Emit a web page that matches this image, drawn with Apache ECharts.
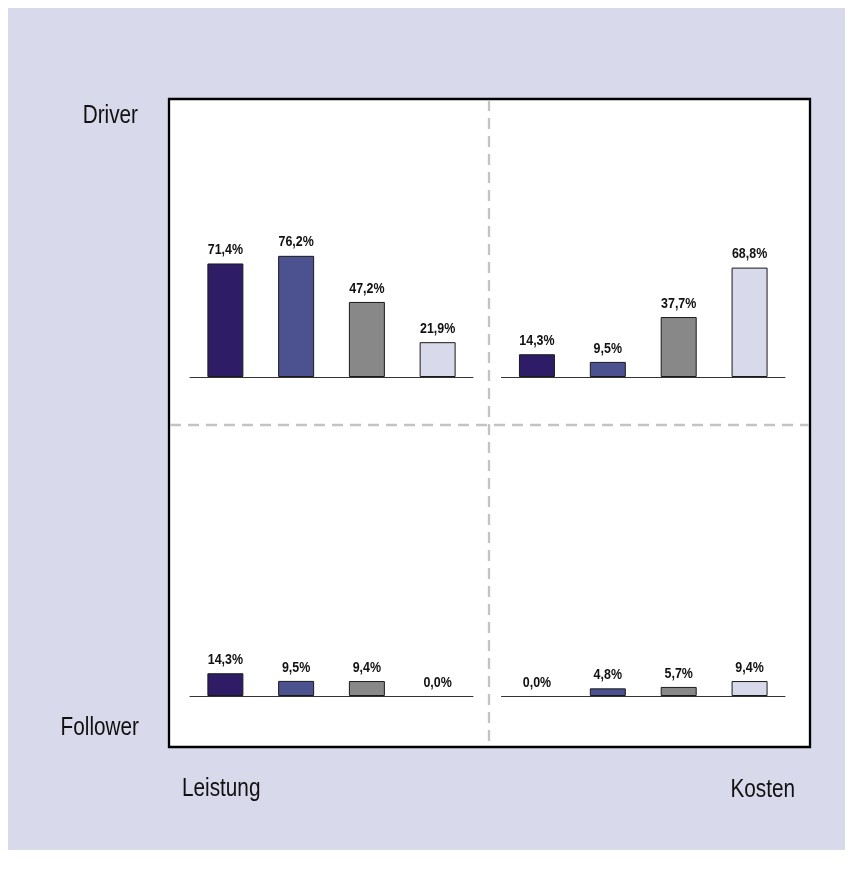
<!DOCTYPE html>
<html><head><meta charset="utf-8">
<script src="https://cdn.jsdelivr.net/npm/echarts@6/dist/echarts.min.js"></script>
<style>html,body{margin:0;padding:0;background:#fff}#c{width:853px;height:880px}</style>
</head><body><div id="c"></div>
<script>
// categories (bar groups) within each quadrant
var categories = ['1', '2', '3', '4'];
// quadrant values (%)
var driverLeistung = [71.4, 76.2, 47.2, 21.9];
var driverKosten = [14.3, 9.5, 37.7, 68.8];
var followerLeistung = [14.3, 9.5, 9.4, 0.0];
var followerKosten = [0.0, 4.8, 5.7, 9.4];
var barColors = ['#2e1d66', '#4b528f', '#888888', '#d8d9ea'];
var axisLabelsY = ['Driver', 'Follower'];
var axisLabelsX = ['Leistung', 'Kosten'];

var FONT = '"Liberation Sans",Arial,sans-serif';
var SX = 0.83; // horizontal condensing to mimic a narrow font
var fmtV = function (v) { return v.toFixed(1).replace('.', ',') + '%'; };

var grids = [
  {left: 190, top: 218, width: 283, height: 159},
  {left: 501.5, top: 218, width: 283.5, height: 159},
  {left: 190, top: 537, width: 283, height: 159},
  {left: 501.5, top: 537, width: 283.5, height: 159}
];
var datasets = [driverLeistung, driverKosten, followerLeistung, followerKosten];

var xAxes = [], yAxes = [], series = [];
grids.forEach(function (g, i) {
  xAxes.push({type: 'category', gridIndex: i, data: categories,
    axisLine: {lineStyle: {color: '#333', width: 1}}, axisTick: {show: false},
    axisLabel: {show: false}, splitLine: {show: false}});
  yAxes.push({type: 'value', gridIndex: i, min: 0, max: 100, show: false, splitLine: {show: false}});
  series.push({type: 'bar', xAxisIndex: i, yAxisIndex: i, barWidth: 36,
    data: datasets[i].map(function (v, j) {
      return {value: v, itemStyle: {color: barColors[j], borderColor: v > 0 ? '#1a1a1a' : 'transparent', borderWidth: 1}};
    }),
    animation: false});
  series.push({type: 'custom', xAxisIndex: i, yAxisIndex: i, z: 5,
    data: datasets[i].map(function (v, j) { return [j, v]; }),
    renderItem: function (params, api) {
      var c = api.coord([api.value(0), api.value(1)]);
      return {type: 'text', x: c[0], y: c[1] - 6, scaleX: SX,
        style: {text: fmtV(api.value(1)), font: 'bold 15px ' + FONT, fill: '#111',
          textAlign: 'center', textVerticalAlign: 'bottom'}};
    },
    animation: false});
});

function title(text, x, y, align) {
  return {type: 'text', x: x, y: y, scaleX: SX,
    style: {text: text, font: '25px ' + FONT, fill: '#111', textAlign: align, textVerticalAlign: 'middle'}};
}

var chart = echarts.init(document.getElementById('c'));
chart.setOption({
  animation: false,
  grid: grids,
  xAxis: xAxes,
  yAxis: yAxes,
  series: series,
  graphic: [
    {type: 'rect', z: -10, shape: {x: 8, y: 8, width: 837, height: 842}, style: {fill: '#d8d9ea'}},
    {type: 'rect', z: -5, shape: {x: 169, y: 99, width: 641, height: 648}, style: {fill: '#fff', stroke: '#000', lineWidth: 2.3}},
    {type: 'line', z: 1, shape: {x1: 489, y1: 100, x2: 489, y2: 746}, style: {stroke: '#c3c3c3', lineWidth: 2.3, lineDash: [11, 7]}},
    {type: 'line', z: 1, shape: {x1: 170, y1: 425, x2: 809, y2: 425}, style: {stroke: '#c3c3c3', lineWidth: 2.3, lineDash: [11, 7]}},
    title(axisLabelsY[0], 138, 116, 'right'),
    title(axisLabelsY[1], 139, 728, 'right'),
    title(axisLabelsX[0], 182, 789, 'left'),
    title(axisLabelsX[1], 795, 790, 'right')
  ]
});
</script></body></html>
